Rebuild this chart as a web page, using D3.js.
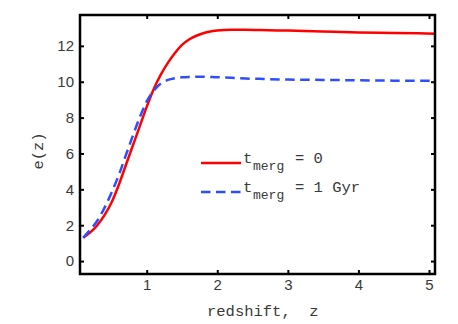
<!DOCTYPE html>
<html>
<head>
<meta charset="utf-8">
<script src="https://cdn.jsdelivr.net/npm/d3@7"></script>
<style>
  html, body { margin: 0; padding: 0; background: #fff; }
  svg { display: block; }
</style>
</head>
<body>
<svg id="chart" width="458" height="324"></svg>
<script>
// ---- data ----
const redshift = [0.1, 0.2, 0.3, 0.4, 0.5, 0.6, 0.7, 0.8, 0.9, 1.0, 1.1, 1.2, 1.3, 1.4, 1.5, 1.6, 1.8, 2.0, 2.2, 2.4, 2.6, 3.0, 3.5, 4.0, 4.5, 5.085];
const eMerg0   = [1.3, 1.6, 2.0, 2.55, 3.25, 4.2, 5.3, 6.4, 7.5, 8.6, 9.6, 10.4, 11.05, 11.6, 12.05, 12.35, 12.7, 12.85, 12.9, 12.9, 12.88, 12.85, 12.8, 12.75, 12.72, 12.68];
const eMerg1   = [1.3, 1.75, 2.25, 2.95, 3.8, 4.75, 5.85, 6.95, 8.0, 8.9, 9.5, 9.9, 10.1, 10.2, 10.25, 10.27, 10.28, 10.25, 10.22, 10.18, 10.16, 10.12, 10.1, 10.08, 10.06, 10.05];
const xTicks = [1, 2, 3, 4, 5];
const yTicks = [0, 2, 4, 6, 8, 10, 12];
const seriesNames = ["0", "1 Gyr"];
const seriesColors = ["#ff0000", "#2e4dff"];

// ---- layout ----
const svg = d3.select("#chart");
const L = 80, R = 435, T = 15, B = 274;
const x = d3.scaleLinear().domain([0.055, 5.085]).range([L, R]);
const y = d3.scaleLinear().domain([-0.72, 13.72]).range([B, T]);

const tickFont = "'Liberation Sans', Arial, sans-serif";
const monoFont = "'Liberation Mono', 'Courier New', monospace";
const textColor = "#3a3a3a";

// curves
const line = d3.line().x((d, i) => x(redshift[i])).y(d => y(d)).curve(d3.curveMonotoneX);
svg.append("clipPath").attr("id", "clip").append("rect")
  .attr("x", L).attr("y", T).attr("width", R - L).attr("height", B - T);

svg.append("path").datum(eMerg0).attr("d", line)
  .attr("fill", "none").attr("stroke", seriesColors[0]).attr("stroke-width", 2.5)
  .attr("clip-path", "url(#clip)");
svg.append("path").datum(eMerg1).attr("d", line)
  .attr("fill", "none").attr("stroke", seriesColors[1]).attr("stroke-width", 2.5)
  .attr("stroke-dasharray", "9.5,5.5")
  .attr("clip-path", "url(#clip)");

// axes (ticks inward)
const axB = d3.axisBottom(x).tickValues(xTicks).tickSize(-4).tickPadding(5.5).tickFormat(d3.format("d"));
const axT = d3.axisTop(x).tickValues(xTicks).tickSize(-4).tickFormat("");
const axLf = d3.axisLeft(y).tickValues(yTicks).tickSize(-4).tickPadding(6).tickFormat(d3.format("d"));
const axRt = d3.axisRight(y).tickValues(yTicks).tickSize(-4).tickFormat("");

function style(g) {
  g.select(".domain").remove();
  g.selectAll(".tick line").attr("stroke", "#000").attr("stroke-width", 2);
  g.selectAll(".tick text").attr("fill", textColor).style("font-family", tickFont).style("font-size", "15px");
}
svg.append("g").attr("transform", `translate(0,${B})`).call(axB).call(style);
svg.append("g").attr("transform", `translate(0,${T})`).call(axT).call(style);
svg.append("g").attr("transform", `translate(${L},0)`).call(axLf).call(style);
svg.append("g").attr("transform", `translate(${R},0)`).call(axRt).call(style);

// frame
svg.append("rect").attr("x", L).attr("y", T).attr("width", R - L).attr("height", B - T)
  .attr("fill", "none").attr("stroke", "#000").attr("stroke-width", 2.5);

// axis labels
const xl = svg.append("text").attr("x", 207).attr("y", 316)
  .style("font-family", monoFont).style("font-size", "15.5px").attr("fill", textColor);
xl.append("tspan").text("redshift,");
xl.append("tspan").attr("x", 207 + 9.3 * 11).text("z");

svg.append("text").attr("transform", "translate(43,151) rotate(-90)").attr("text-anchor", "middle")
  .style("font-family", monoFont).style("font-size", "15.5px").attr("fill", textColor)
  .text("e(z)");

// legend
const legY = [163, 192];
seriesNames.forEach((name, i) => {
  const g = svg.append("g");
  g.append("line").attr("x1", 201).attr("x2", 241).attr("y1", legY[i]).attr("y2", legY[i])
    .attr("stroke", seriesColors[i]).attr("stroke-width", 2.5)
    .attr("stroke-dasharray", i === 1 ? "9.5,5.5" : null);
  const t = g.append("text").attr("y", legY[i]).attr("fill", textColor)
    .style("font-family", monoFont).style("font-size", "15.5px");
  t.append("tspan").attr("x", 243).text("t");
  t.append("tspan").attr("x", 253).attr("dy", 7).style("font-size", "13px").text("merg");
  t.append("tspan").attr("x", 295).attr("dy", -7).text("= " + name);
});
</script>
</body>
</html>
